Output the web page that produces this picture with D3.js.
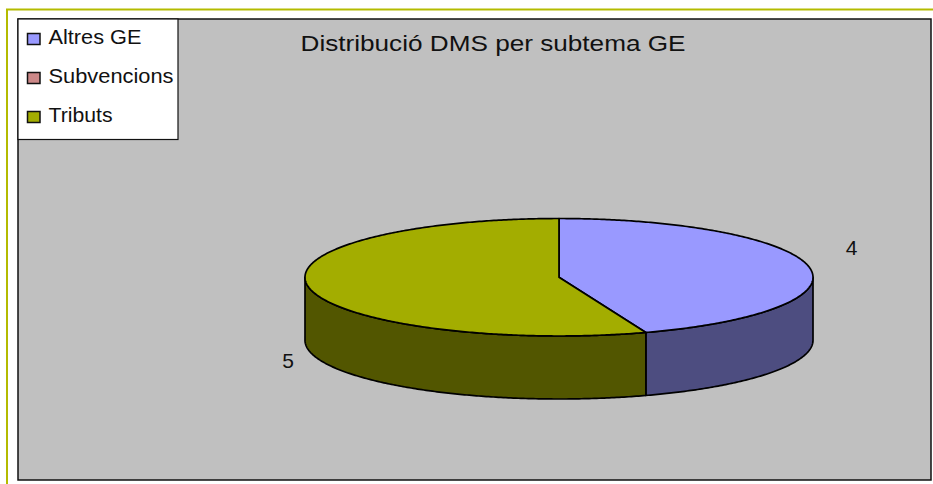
<!DOCTYPE html>
<html>
<head>
<meta charset="utf-8">
<script src="https://cdn.jsdelivr.net/npm/d3@7"></script>
<style>
  html, body { margin: 0; padding: 0; background: #fff; }
  svg { display: block; }
  text { font-family: "Liberation Sans", Arial, sans-serif; fill: #111; }
</style>
</head>
<body>
<svg id="chart" width="933" height="484"></svg>
<script>
var categories = ['Altres GE', 'Subvencions', 'Tributs'];
var values = [4, 0, 5];
var topColors = ['#9999ff', '#cc8888', '#a3ad00'];
var sideColors = ['#4d4d80', '#804d4d', '#525600'];
var titleText = 'Distribució DMS per subtema GE';

var svg = d3.select('#chart');

// outer frame and grey plot area
svg.append('rect').attr('x', 7).attr('y', 9.5).attr('width', 940).attr('height', 490)
  .attr('fill', '#fff').attr('stroke', '#b4bb00').attr('stroke-width', 2);
svg.append('rect').attr('x', 18).attr('y', 19).attr('width', 913).attr('height', 461)
  .attr('fill', '#c0c0c0').attr('stroke', '#111').attr('stroke-width', 1.5);

svg.append('text').attr('x', 300.5).attr('y', 51)
  .style('font-size', '22px').attr('textLength', 385).attr('lengthAdjust', 'spacingAndGlyphs')
  .text(titleText);

// pie geometry, flattened circle
var x = d3.scaleLinear().domain([-1, 1]).range([305, 813]);
var y = d3.scaleLinear().domain([-1, 1]).range([218.5, 336]);
var depth = 63;

var pie = d3.pie().sort(null).value(function (d) { return d; });
var arcs = pie(values);

var line = d3.line()
  .x(function (d) { return x(d[0]); })
  .y(function (d) { return y(d[1]); });

function rimPoints(a0, a1) {
  var n = Math.max(2, Math.ceil((a1 - a0) / 0.01));
  return d3.range(n + 1).map(function (i) {
    var a = a0 + (a1 - a0) * i / n;
    return [Math.sin(a), -Math.cos(a)];
  });
}

// side walls, only the front half of the rim shows
arcs.forEach(function (d, i) {
  var a0 = Math.max(d.startAngle, Math.PI / 2);
  var a1 = Math.min(d.endAngle, Math.PI * 3 / 2);
  if (a1 <= a0) return;
  var pts = rimPoints(a0, a1).map(function (p) { return [x(p[0]), y(p[1])]; });
  var lower = pts.slice().reverse().map(function (p) { return [p[0], p[1] + depth]; });
  svg.append('path')
    .attr('d', d3.line()(pts.concat(lower)) + 'Z')
    .attr('fill', sideColors[i]).attr('stroke', '#000').attr('stroke-width', 1.7)
    .attr('stroke-linejoin', 'round');
});

// top face
arcs.forEach(function (d, i) {
  if (d.endAngle - d.startAngle <= 0) return;
  svg.append('path')
    .attr('d', line([[0, 0]].concat(rimPoints(d.startAngle, d.endAngle))) + 'Z')
    .attr('fill', topColors[i]).attr('stroke', '#000').attr('stroke-width', 1.7)
    .attr('stroke-linejoin', 'round');
});

// value labels
svg.append('text').attr('x', 851.5).attr('y', 255).attr('text-anchor', 'middle')
  .style('font-size', '21px').text(values[0]);
svg.append('text').attr('x', 288).attr('y', 368).attr('text-anchor', 'middle')
  .style('font-size', '21px').text(values[2]);

// legend
var legend = svg.append('g');
legend.append('rect').attr('x', 18).attr('y', 19).attr('width', 160).attr('height', 120.5)
  .attr('fill', '#fff').attr('stroke', '#111').attr('stroke-width', 1.2);
var legendY = d3.scalePoint().domain(categories).range([38.5, 116.5]);
var legendW = [93, 125, 64];
categories.forEach(function (c, i) {
  legend.append('rect').attr('x', 27.5).attr('y', legendY(c) - 5).attr('width', 12.5).attr('height', 11)
    .attr('fill', topColors[i]).attr('stroke', '#111').attr('stroke-width', 1.5);
  legend.append('text').attr('x', 48.5).attr('y', legendY(c) + 5.5)
    .style('font-size', '20px').attr('textLength', legendW[i]).attr('lengthAdjust', 'spacingAndGlyphs')
    .text(c);
});
</script>
</body>
</html>
